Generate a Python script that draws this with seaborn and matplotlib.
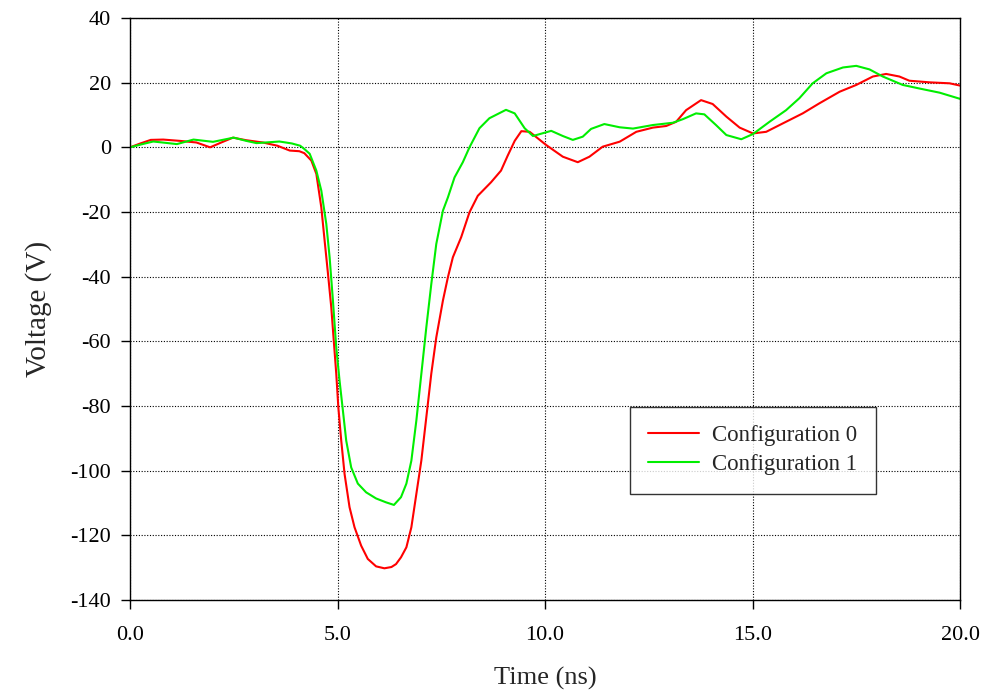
import numpy as np
import pandas as pd
import matplotlib
matplotlib.use("Agg")
import matplotlib.pyplot as plt
import seaborn as sns

# =======================
# Data (time in ns, voltage in V)
# =======================
t_cfg0 = [0.0, 0.25, 0.5, 0.8, 1.2, 1.6, 1.93, 2.2, 2.48, 2.8, 3.2, 3.55, 3.85, 4.08, 4.2,
          4.37, 4.49, 4.61, 4.69, 4.77, 4.85, 4.91, 4.97, 5.02, 5.09, 5.17, 5.29, 5.41,
          5.57, 5.73, 5.93, 6.13, 6.3, 6.41, 6.53, 6.66, 6.78, 6.90, 7.02, 7.14, 7.26,
          7.38, 7.54, 7.66, 7.78, 7.98, 8.18, 8.38, 8.70, 8.94, 9.10, 9.27, 9.43, 9.63,
          10.03, 10.43, 10.79, 11.07, 11.39, 11.80, 12.20, 12.60, 12.92, 13.16, 13.40,
          13.76, 14.04, 14.37, 14.69, 15.01, 15.33, 15.73, 16.21, 16.61, 17.10, 17.50,
          17.90, 18.22, 18.54, 18.78, 19.27, 19.75, 20.0]
v_cfg0 = [0.0, 1.2, 2.3, 2.4, 2.0, 1.5, 0.0, 1.5, 3.0, 2.2, 1.5, 0.5, -1.0, -1.2, -1.8,
          -4.1, -8.2, -18.6, -28.9, -39.0, -49.5, -59.8, -70.0, -80.4, -90.7, -101.0,
          -111.3, -117.5, -123.2, -127.3, -129.6, -130.2, -129.8, -128.9, -126.8, -123.7,
          -117.5, -107.2, -96.9, -83.5, -70.0, -58.8, -47.4, -40.2, -34.0, -27.8, -20.1,
          -15.0, -10.8, -7.2, -2.6, 2.0, 5.0, 4.8, 0.7, -2.9, -4.6, -2.9, 0.2, 1.75, 4.8,
          6.1, 6.6, 7.9, 11.5, 14.6, 13.4, 9.5, 6.1, 4.3, 4.8, 7.4, 10.5, 13.6, 17.2,
          19.3, 21.9, 22.7, 21.9, 20.6, 20.1, 19.8, 19.1]

t_cfg1 = [0.0, 0.3, 0.56, 0.85, 1.13, 1.53, 2.0, 2.5, 2.8, 3.05, 3.6, 3.9, 4.1, 4.2,
          4.33, 4.49, 4.61, 4.73, 4.81, 4.89, 4.97, 5.05, 5.13, 5.21, 5.33, 5.49, 5.69,
          5.93, 6.17, 6.36, 6.53, 6.66, 6.78, 6.90, 7.02, 7.14, 7.26, 7.38, 7.54, 7.66,
          7.82, 8.02, 8.18, 8.42, 8.66, 9.06, 9.27, 9.51, 9.71, 10.15, 10.43, 10.67,
          10.91, 11.11, 11.43, 11.80, 12.12, 12.60, 13.08, 13.32, 13.64, 13.84, 14.12,
          14.37, 14.73, 15.01, 15.41, 15.81, 16.13, 16.45, 16.78, 17.18, 17.50, 17.82,
          18.14, 18.62, 19.02, 19.51, 20.0]
v_cfg1 = [0.0, 1.0, 1.8, 1.4, 1.0, 2.4, 1.7, 3.0, 2.0, 1.3, 1.8, 1.2, 0.5, -0.5,
          -2.0, -7.2, -13.4, -23.7, -34.0, -47.4, -61.9, -72.2, -81.4, -90.7, -99.0,
          -104.0, -106.7, -108.6, -109.8, -110.6, -108.2, -104.0, -96.9, -84.5, -70.1,
          -55.7, -42.3, -29.9, -19.6, -15.5, -9.3, -4.6, 0.0, 5.9, 9.0, 11.6, 10.5, 5.9,
          3.5, 5.1, 3.5, 2.3, 3.3, 5.7, 7.2, 6.2, 5.8, 6.9, 7.6, 8.7, 10.5, 10.2, 6.9,
          3.8, 2.5, 4.1, 7.9, 11.5, 15.2, 19.8, 22.9, 24.7, 25.2, 24.1, 21.9, 19.3, 18.2,
          16.9, 15.0]

series_names = ["Configuration 0", "Configuration 1"]
x_ticks = [0, 5, 10, 15, 20]
x_tick_labels = ["0.0", "5.0", "10.0", "15.0", "20.0"]
y_ticks = list(range(-140, 41, 20))

df = pd.concat([
    pd.DataFrame({"time": t_cfg0, "voltage": v_cfg0, "config": series_names[0]}),
    pd.DataFrame({"time": t_cfg1, "voltage": v_cfg1, "config": series_names[1]}),
], ignore_index=True)

# =======================
# Plot
# =======================
sns.set_style("ticks")
plt.rcParams["font.family"] = ["Liberation Serif", "DejaVu Serif"]
plt.rcParams["axes.unicode_minus"] = False

fig = plt.figure(figsize=(10, 6.95), dpi=100)
ax = fig.add_axes([0.13, 0.1367, 0.83, 0.8374])

sns.lineplot(data=df, x="time", y="voltage", hue="config", sort=False,
             palette={series_names[0]: "#ff0000", series_names[1]: "#00ee00"},
             linewidth=1.5, ax=ax)

ax.set_xlim(0, 20)
ax.set_ylim(-140, 40)
ax.set_xticks(x_ticks)
ax.set_xticklabels(x_tick_labels)
ax.set_yticks(y_ticks)
ax.tick_params(direction="out", length=6.5, width=1, colors="black", labelsize=16)
ax.tick_params(axis="x", pad=12)
ax.tick_params(axis="y", pad=7)
ax.grid(True, color="black", linestyle=(0, (1, 1.5)), linewidth=0.8)
for sp in ax.spines.values():
    sp.set_visible(True)
    sp.set_color("black")
    sp.set_linewidth(1)

ax.set_xlabel("Time (ns)", fontsize=19, labelpad=16)
ax.set_ylabel("Voltage (V)", fontsize=21, labelpad=13)

leg = ax.legend(loc="upper left", bbox_to_anchor=(0.6024, 0.3316), fontsize=16.5,
                frameon=True, fancybox=False, shadow=False, borderpad=0.8,
                handlelength=2.2, handletextpad=0.6, borderaxespad=0,
                labelspacing=0.35)
leg.get_frame().set_edgecolor("black")
leg.get_frame().set_linewidth(1)
leg.set_title(None)

fig.savefig("out.png", dpi=100)
